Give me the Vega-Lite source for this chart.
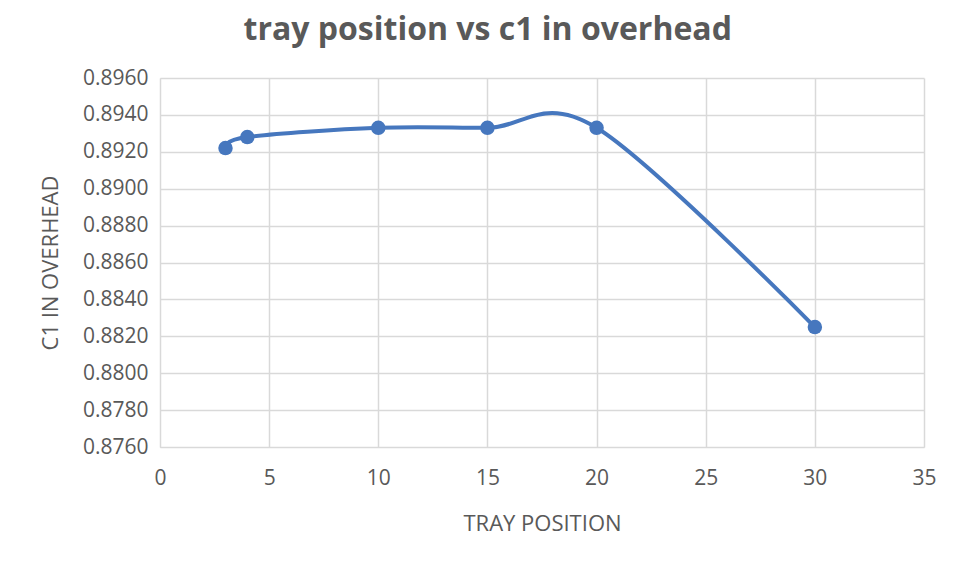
{
  "$schema": "https://vega.github.io/schema/vega-lite/v6.json",
  "autosize": {"type": "none"},
  "padding": {"left": 160, "top": 78, "right": 36, "bottom": 114},
  "width": 764,
  "height": 369,
  "background": "white",
  "title": {
    "text": "tray position vs c1 in overhead",
    "anchor": "middle",
    "frame": "bounds",
    "font": "Open Sans",
    "fontSize": 32,
    "fontWeight": "bold",
    "color": "#595959",
    "offset": 20
  },
  "data": {
    "values": [
      {"tray": 3, "c1": 0.8922},
      {"tray": 4, "c1": 0.8928},
      {"tray": 10, "c1": 0.8933},
      {"tray": 15, "c1": 0.8933},
      {"tray": 20, "c1": 0.8933},
      {"tray": 30, "c1": 0.8825}
    ]
  },
  "encoding": {
    "x": {
      "field": "tray",
      "type": "quantitative",
      "title": "TRAY POSITION",
      "scale": {"domain": [0, 35], "nice": false},
      "axis": {"values": [0, 5, 10, 15, 20, 25, 30, 35], "labelFlush": false, "labelPadding": 20, "titlePadding": 25}
    },
    "y": {
      "field": "c1",
      "type": "quantitative",
      "title": "C1 IN OVERHEAD",
      "scale": {"domain": [0.876, 0.896], "nice": false, "zero": false},
      "axis": {
        "values": [0.876, 0.878, 0.88, 0.882, 0.884, 0.886, 0.888, 0.89, 0.892, 0.894, 0.896],
        "format": ".4f",
        "labelPadding": 12,
        "titlePadding": 20
      }
    }
  },
  "layer": [
    {
      "mark": {"type": "line", "interpolate": "cardinal", "color": "#4677BE", "strokeWidth": 4}
    },
    {
      "mark": {"type": "point", "filled": true, "opacity": 1, "color": "#4677BE", "size": 210}
    }
  ],
  "config": {
    "view": {"stroke": null},
    "axis": {
      "labelFont": "Open Sans",
      "labelFontSize": 21,
      "labelColor": "#595959",
      "titleFont": "Open Sans",
      "titleFontSize": 22,
      "titleFontWeight": "normal",
      "titleColor": "#595959",
      "gridColor": "#D9D9D9",
      "gridWidth": 1.5,
      "domainColor": "#D9D9D9",
      "ticks": false
    }
  }
}
